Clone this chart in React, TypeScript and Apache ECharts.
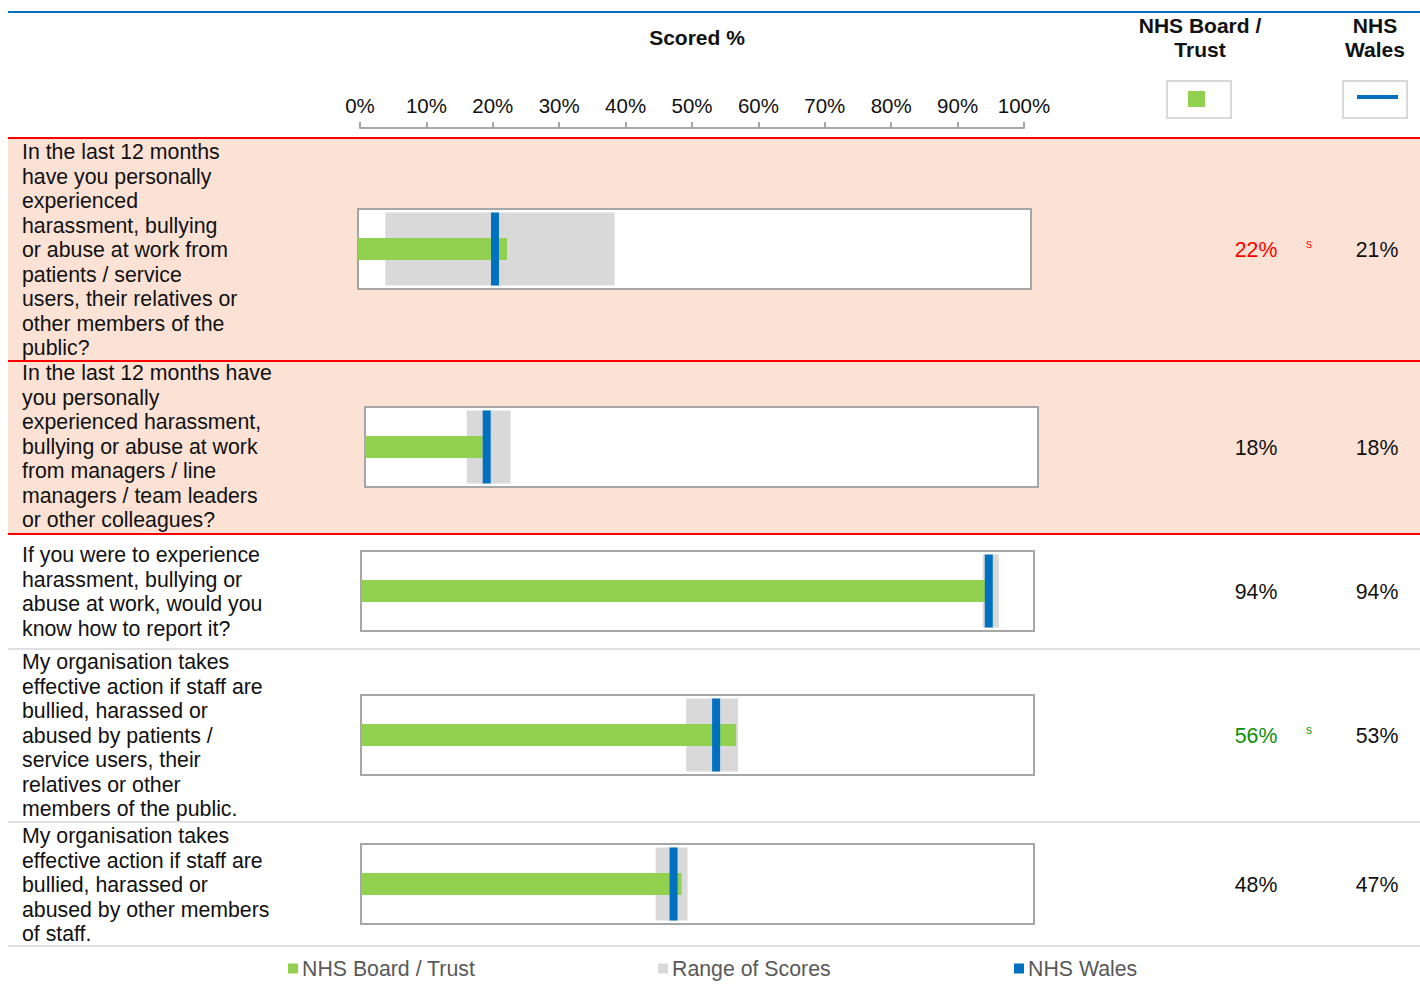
import React, { useEffect, useRef } from "react";
import * as echarts from "echarts";

// ---------------- DATA ----------------
const categories: string[] = [
  "In the last 12 months\nhave you personally\nexperienced\nharassment, bullying\nor abuse at work from\npatients / service\nusers, their relatives or\nother members of the\npublic?",
  "In the last 12 months have\nyou personally\nexperienced harassment,\nbullying or abuse at work\nfrom managers / line\nmanagers / team leaders\nor other colleagues?",
  "If you were to experience\nharassment, bullying or\nabuse at work, would you\nknow how to report it?",
  "My organisation takes\neffective action if staff are\nbullied, harassed or\nabused by patients /\nservice users, their\nrelatives or other\nmembers of the public.",
  "My organisation takes\neffective action if staff are\nbullied, harassed or\nabused by other members\nof staff.",
];
const boardValues: number[] = [22.4, 17.7, 93.9, 56.4, 48.2];
const walesValues: number[] = [20.6, 18.3, 94.4, 53.4, 47.0];
const rangeLow: number[] = [4.1, 15.3, 93.5, 48.9, 44.3];
const rangeHigh: number[] = [38.6, 21.9, 95.9, 56.7, 49.1];
const significance: string[] = ["worse", "", "", "better", ""];
const legendNames: string[] = ["NHS Board / Trust", "Range of Scores", "NHS Wales"];

// ---------------- LAYOUT ----------------
const FONT = "Liberation Sans, Arial, sans-serif";
const GREEN = "#92d050";
const GREY = "#d9d9d9";
const BLUE = "#0070c0";
const rows = [
  { top: 138, bottom: 361, textTop: 140, boxLeft: 357, boxTop: 208 },
  { top: 361, bottom: 534, textTop: 361, boxLeft: 364, boxTop: 406 },
  { top: 534, bottom: 649, textTop: 543, boxLeft: 360, boxTop: 550 },
  { top: 649, bottom: 822, textTop: 650, boxLeft: 360, boxTop: 694 },
  { top: 822, bottom: 946, textTop: 824, boxLeft: 360, boxTop: 843 },
];
const BOX_W = 675;
const BOX_H = 82;
const X_MAX = 101.2;

const sigColor = (s: string) => (s === "worse" ? "#ff0000" : s === "better" ? "#0a8f0a" : "#111111");

export default function App() {
  const ref = useRef<HTMLDivElement>(null);
  useEffect(() => {
    if (!ref.current) return;
    const chart = echarts.init(ref.current, undefined, { renderer: "svg" });

    const grids: any[] = [];
    const xAxes: any[] = [];
    const yAxes: any[] = [];
    const series: any[] = [];

    rows.forEach((r, i) => {
      grids.push({
        left: r.boxLeft + 1,
        top: r.boxTop + 1,
        width: BOX_W - 2,
        height: BOX_H - 2,
        show: true,
        backgroundColor: "#ffffff",
        borderColor: "#a6a6a6",
        borderWidth: 2,
        z: 1,
      });
      xAxes.push({ gridIndex: i, type: "value", min: 0, max: X_MAX, show: false });
      const yA = yAxes.length;
      yAxes.push({ gridIndex: i, type: "category", data: [categories[i]], show: false });
      const yB = yAxes.length;
      yAxes.push({ gridIndex: i, type: "category", data: [categories[i]], show: false });
      series.push({
        name: "base",
        type: "bar",
        xAxisIndex: i,
        yAxisIndex: yA,
        stack: "range" + i,
        barWidth: 73,
        itemStyle: { color: "rgba(0,0,0,0)" },
        silent: true,
        data: [rangeLow[i]],
      });
      series.push({
        name: legendNames[1],
        type: "bar",
        xAxisIndex: i,
        yAxisIndex: yA,
        stack: "range" + i,
        barWidth: 73,
        itemStyle: { color: GREY },
        data: [rangeHigh[i] - rangeLow[i]],
      });
      series.push({
        name: legendNames[0],
        type: "bar",
        xAxisIndex: i,
        yAxisIndex: yB,
        barWidth: 22,
        itemStyle: { color: GREEN },
        data: [boardValues[i]],
        z: 3,
      });
      series.push({
        name: legendNames[2],
        type: "scatter",
        xAxisIndex: i,
        yAxisIndex: yB,
        symbol: "rect",
        symbolSize: [8, 73],
        itemStyle: { color: BLUE, opacity: 1 },
        data: [[walesValues[i], 0]],
        z: 4,
      });
    });

    // top scale axis
    const ti = rows.length;
    grids.push({ left: 360, top: 127, width: 664, height: 1, show: false });
    xAxes.push({
      gridIndex: ti,
      type: "value",
      position: "top",
      min: 0,
      max: 100,
      interval: 10,
      axisLine: { show: true, lineStyle: { color: "#a6a6a6", width: 2 } },
      axisTick: { show: true, length: 6, lineStyle: { color: "#a6a6a6", width: 2 } },
      splitLine: { show: false },
      axisLabel: { formatter: "{value}%", fontSize: 20.5, color: "#111", fontFamily: FONT, margin: 11 },
    });
    yAxes.push({ gridIndex: ti, type: "value", show: false });

    const graphics: any[] = [];
    graphics.push({
      type: "rect",
      z: -5,
      shape: { x: 8, y: rows[0].top, width: 1412, height: rows[1].bottom - rows[0].top },
      style: { fill: "#fbe2d5" },
    });
    graphics.push({ type: "line", z: 5, shape: { x1: 8, y1: 12, x2: 1420, y2: 12 }, style: { stroke: BLUE, lineWidth: 2 } });
    rows.forEach((r, i) => {
      graphics.push({
        type: "line",
        z: 5,
        shape: { x1: 8, y1: r.top, x2: 1420, y2: r.top },
        style: { stroke: i <= 2 ? "#ff0000" : "#e0e0e0", lineWidth: 2 },
      });
      if (i === rows.length - 1) {
        graphics.push({
          type: "line",
          z: 5,
          shape: { x1: 8, y1: r.bottom, x2: 1420, y2: r.bottom },
          style: { stroke: "#e0e0e0", lineWidth: 2 },
        });
      }
      const cy = r.boxTop + BOX_H / 2;
      graphics.push({
        type: "text",
        z: 5,
        style: {
          text: categories[i],
          x: 22,
          y: r.textTop,
          fontSize: 21.3,
          fontFamily: FONT,
          lineHeight: 24.5,
          fill: "#111111",
          align: "left",
          textAlign: "left",
          verticalAlign: "top",
          textVerticalAlign: "top",
        },
      });
      graphics.push({
        type: "text",
        z: 5,
        style: {
          text: Math.round(boardValues[i]) + "%",
          x: 1256,
          y: cy + 1,
          fontSize: 21.3,
          fontFamily: FONT,
          fill: sigColor(significance[i]),
          align: "center",
          textAlign: "center",
          verticalAlign: "middle",
          textVerticalAlign: "middle",
        },
      });
      graphics.push({
        type: "text",
        z: 5,
        style: {
          text: Math.round(walesValues[i]) + "%",
          x: 1377,
          y: cy + 1,
          fontSize: 21.3,
          fontFamily: FONT,
          fill: "#111111",
          align: "center",
          textAlign: "center",
          verticalAlign: "middle",
          textVerticalAlign: "middle",
        },
      });
      if (significance[i]) {
        graphics.push({
          type: "text",
          z: 5,
          style: {
            text: "s",
            x: 1309,
            y: cy - 5,
            fontSize: 12,
            fontFamily: FONT,
            fill: sigColor(significance[i]),
            align: "center",
            textAlign: "center",
            verticalAlign: "middle",
            textVerticalAlign: "middle",
          },
        });
      }
    });
    const headerText = (text: string, x: number, y: number) => ({
      type: "text",
      z: 5,
      style: {
        text,
        x,
        y,
        fontSize: 21,
        fontWeight: "bold",
        fontFamily: FONT,
        lineHeight: 24,
        fill: "#111111",
        align: "center",
        textAlign: "center",
        verticalAlign: "top",
        textVerticalAlign: "top",
      },
    });
    graphics.push(headerText("Scored %", 697, 25));
    graphics.push(headerText("NHS Board /\nTrust", 1200, 13));
    graphics.push(headerText("NHS\nWales", 1375, 13));
    graphics.push({ type: "rect", z: 5, shape: { x: 1167, y: 81, width: 64, height: 37 }, style: { fill: "#fff", stroke: GREY, lineWidth: 2 } });
    graphics.push({ type: "rect", z: 6, shape: { x: 1188, y: 91, width: 17, height: 16 }, style: { fill: GREEN } });
    graphics.push({ type: "rect", z: 5, shape: { x: 1343, y: 81, width: 64, height: 37 }, style: { fill: "#fff", stroke: GREY, lineWidth: 2 } });
    graphics.push({ type: "line", z: 6, shape: { x1: 1357, y1: 97, x2: 1398, y2: 97 }, style: { stroke: BLUE, lineWidth: 4 } });

    const legendColors = [GREEN, GREY, BLUE];
    const legendLefts = [288, 658, 1014];
    const legends = legendNames.map((n, k) => ({
      data: [{ name: n, icon: "rect", itemStyle: { color: legendColors[k] } }],
      left: legendLefts[k],
      top: 958,
      padding: 0,
      itemWidth: 10,
      itemHeight: 10,
      itemGap: 4,
      selectedMode: false,
      textStyle: { fontSize: 21.3, color: "#595959", fontFamily: FONT, padding: [0, 0, 0, -1] },
    }));

    chart.setOption({
      animation: false,
      textStyle: { fontFamily: FONT },
      grid: grids,
      xAxis: xAxes,
      yAxis: yAxes,
      series,
      legend: legends,
      graphic: graphics,
    });
    return () => chart.dispose();
  }, []);
  return <div ref={ref} style={{ position: "absolute", left: 0, top: 0, width: 1420, height: 985, background: "#fff" }} />;
}
